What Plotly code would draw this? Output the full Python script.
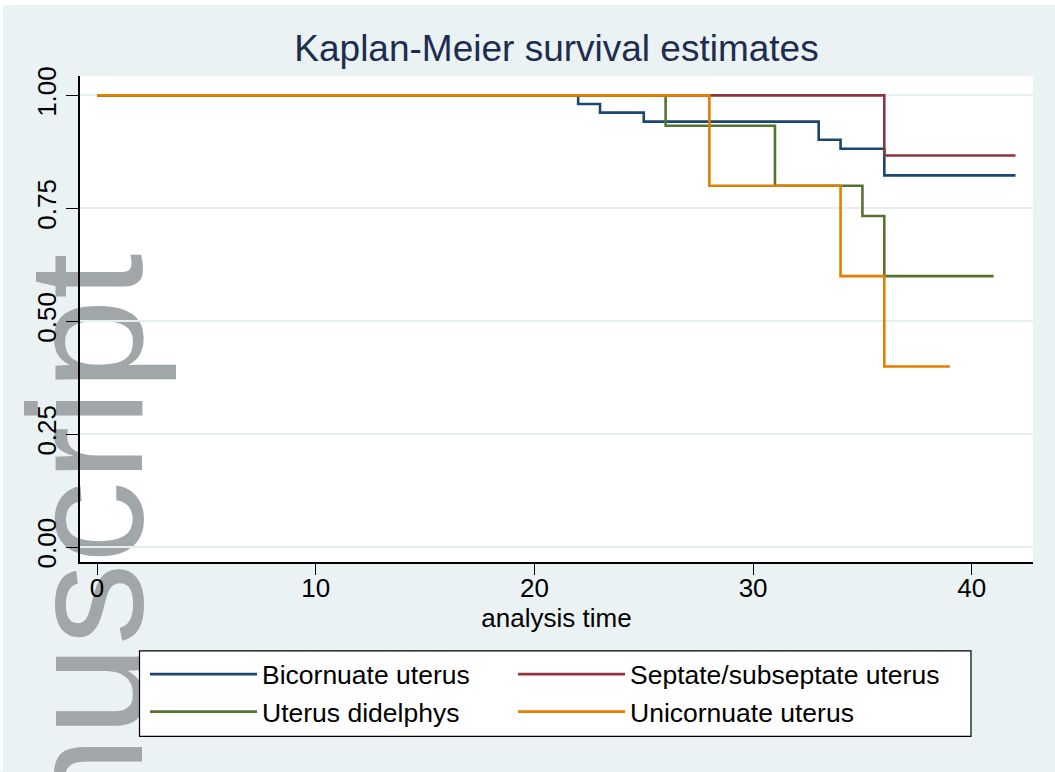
import plotly.graph_objects as go

# ---- data ----
series_names = ["Bicornuate uterus", "Septate/subseptate uterus", "Uterus didelphys", "Unicornuate uterus"]
bic_time = [0, 22, 23, 25, 33, 34, 36, 42]
bic_surv = [1.0, 0.981, 0.962, 0.942, 0.902, 0.882, 0.823, 0.823]
sep_time = [0, 36, 42]
sep_surv = [1.0, 0.867, 0.867]
did_time = [0, 26, 31, 35, 36, 41]
did_surv = [1.0, 0.933, 0.800, 0.733, 0.600, 0.600]
uni_time = [0, 28, 34, 36, 39]
uni_surv = [1.0, 0.800, 0.600, 0.400, 0.400]
x_ticks = [0, 10, 20, 30, 40]
y_ticks = [0.0, 0.25, 0.5, 0.75, 1.0]

colors = ["#1a476f", "#90353b", "#55752f", "#e37e00"]
legend_cols = ["legend", "legend2", "legend", "legend2"]
FONT = "Liberation Sans, Arial, sans-serif"
BG = "#eaf2f3"

W, H = 1055, 772
ML, MR, MT, MB = 80, 22, 76, 209.5
PW, PH = W - ML - MR, H - MT - MB


def px_x(p):
    return (p - ML) / PW


def px_y(p):
    return (H - MB - p) / PH


fig = go.Figure()
for name, t, s, c, lg in zip(series_names,
                             [bic_time, sep_time, did_time, uni_time],
                             [bic_surv, sep_surv, did_surv, uni_surv],
                             colors, legend_cols):
    fig.add_trace(go.Scatter(x=t, y=s, mode="lines", name=name, legend=lg,
                             line=dict(color=c, width=2.6, shape="hv")))

# thin white page margin at top and left edges
fig.add_shape(type="rect", xref="paper", yref="paper",
              x0=px_x(0), x1=px_x(W), y0=px_y(5), y1=px_y(0),
              line=dict(width=0), fillcolor="white", layer="below")
fig.add_shape(type="rect", xref="paper", yref="paper",
              x0=px_x(0), x1=px_x(3), y0=px_y(H), y1=px_y(0),
              line=dict(width=0), fillcolor="white", layer="below")

# watermark (partial "Manuscript" text running up the left edge)
fig.add_shape(type="rect", xref="paper", yref="paper",
              x0=px_x(12), x1=px_x(128), y0=px_y(1066), y1=px_y(244),
              line=dict(width=0), fillcolor="rgba(0,0,0,0)", layer="below",
              label=dict(text="Manuscript", textangle=-90, textposition="middle center",
                         font=dict(size=164, color="#a1a6a9", family=FONT)))

# legend frame
fig.add_shape(type="rect", xref="paper", yref="paper",
              x0=px_x(139.5), x1=px_x(971), y0=px_y(737), y1=px_y(651.5),
              line=dict(width=1.2, color="black"), fillcolor="white", layer="below")

legend_common = dict(orientation="v", yanchor="top", y=px_y(651), xanchor="left",
                     bgcolor="rgba(0,0,0,0)", borderwidth=0,
                     font=dict(size=26.5, family=FONT, color="black"),
                     itemwidth=107, traceorder="normal", tracegroupgap=0)

fig.update_layout(
    width=W, height=H,
    margin=dict(l=ML, r=MR, t=MT, b=MB, autoexpand=False),
    paper_bgcolor=BG, plot_bgcolor="white",
    font=dict(family=FONT, size=26, color="black"),
    title=dict(text="Kaplan-Meier survival estimates", x=0.5, xref="paper", xanchor="center",
               y=1 - 48 / H, yref="container", yanchor="middle",
               font=dict(size=37, color="#1e2d4f", family=FONT)),
    showlegend=True,
    legend=dict(x=px_x(145), **legend_common),
    legend2=dict(x=px_x(513), **legend_common),
    xaxis=dict(range=[-0.78, 42.8], tickvals=x_ticks, ticks="outside", ticklen=11,
               tickcolor="black", tickwidth=1.2, showline=True, linecolor="black", linewidth=1.5,
               showgrid=False, zeroline=False, tickfont=dict(size=26), automargin=False,
               ticklabelstandoff=-9,
               title=dict(text="analysis time", font=dict(size=26), standoff=6)),
    yaxis=dict(range=[-0.033, 1.043], tickvals=y_ticks, tickformat=".2f", tickangle=-90,
               ticks="outside", ticklen=12, tickcolor="black", tickwidth=1.2,
               showline=True, linecolor="black", linewidth=1.5, automargin=False,
               showgrid=True, gridcolor="#e6eef0", gridwidth=1.5, zeroline=False,
               tickfont=dict(size=26)),
)

fig.write_html("out.html")
